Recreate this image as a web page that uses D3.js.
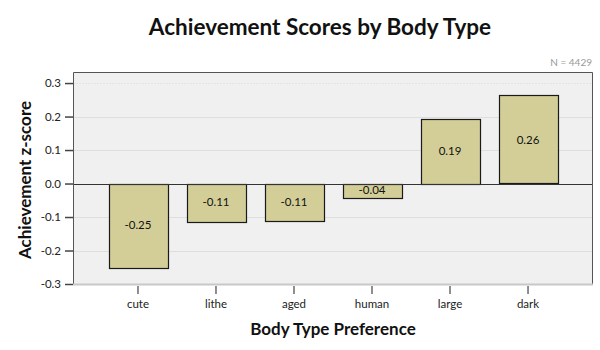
<!DOCTYPE html>
<html>
<head>
<meta charset="utf-8">
<script src="https://cdn.jsdelivr.net/npm/d3@7"></script>
<style>
  body { margin: 0; background: #fff; }
  svg { display: block; font-family: Lato, "Open Sans", sans-serif; }
</style>
</head>
<body>
<svg id="chart" width="600" height="350"></svg>
<script>
// Mean achievement z-score for each body type preference
const categories = ["cute", "lithe", "aged", "human", "large", "dark"];
const scores = [-0.250, -0.112, -0.109, -0.041, 0.194, 0.263];
const yTicks = [-0.3, -0.2, -0.1, 0.0, 0.1, 0.2, 0.3];
const sampleSize = 4429;

// Plain hyphen-minus for negative numbers
const locale = d3.formatLocale({ decimal: ".", thousands: ",", grouping: [3], currency: ["", ""], minus: "-" });
const fmt2 = locale.format(".2f");
const fmt1 = locale.format(".1f");

const svg = d3.select("#chart");
const plot = { left: 73, right: 593, top: 72, bottom: 284 };

const x = d3.scaleBand()
  .domain(categories)
  .range([plot.left, plot.right])
  .paddingInner(0.25)
  .paddingOuter(0.458);

const y = d3.scaleLinear()
  .domain([-0.3, 0.333])
  .range([plot.bottom, plot.top]);

// Plot background
svg.append("rect")
  .attr("x", plot.left).attr("y", plot.top)
  .attr("width", plot.right - plot.left)
  .attr("height", plot.bottom - plot.top)
  .attr("fill", "#f0f0f0");

// Horizontal grid lines
svg.append("g")
  .selectAll("line")
  .data(yTicks.filter(t => t !== 0 && t !== -0.3))
  .join("line")
  .attr("x1", plot.left).attr("x2", plot.right)
  .attr("y1", d => Math.round(y(d)) + 0.5)
  .attr("y2", d => Math.round(y(d)) + 0.5)
  .attr("stroke", d => d === 0.3 ? "#e4e4e4" : "#dedede")
  .attr("stroke-dasharray", d => d === 0.3 ? "2,1" : null)
  .attr("stroke-width", 1);

// Bars
svg.append("g")
  .selectAll("rect")
  .data(categories.map((c, i) => ({ c, v: scores[i] })))
  .join("rect")
  .attr("x", d => Math.round(x(d.c)) + 0.5)
  .attr("y", d => Math.round(y(Math.max(0, d.v))) + 0.5)
  .attr("width", Math.round(x.bandwidth()))
  .attr("height", d => Math.round(Math.abs(y(d.v) - y(0))))
  .attr("fill", "#d3ce97")
  .attr("stroke", "#1a1a1a")
  .attr("stroke-width", 1.2);

// Value labels centred inside each bar
svg.append("g")
  .selectAll("text")
  .data(categories.map((c, i) => ({ c, v: scores[i] })))
  .join("text")
  .attr("x", d => x(d.c) + x.bandwidth() / 2)
  .attr("y", d => (y(d.v) + y(0)) / 2)
  .attr("dy", "0.35em")
  .attr("text-anchor", "middle")
  .attr("font-size", 11.5)
  .attr("fill", "#111")
  .text(d => fmt2(d.v));

// Zero reference line
svg.append("line")
  .attr("x1", plot.left).attr("x2", plot.right)
  .attr("y1", Math.round(y(0)) + 0.5).attr("y2", Math.round(y(0)) + 0.5)
  .attr("stroke", "#333").attr("stroke-width", 1.2);

// Frame: dark top/left/right, light bottom
svg.append("path")
  .attr("d", `M${plot.left + 0.5},${plot.bottom}V${plot.top + 0.5}H${plot.right - 0.5}V${plot.bottom}`)
  .attr("fill", "none").attr("stroke", "#555").attr("stroke-width", 1);
svg.append("line")
  .attr("x1", plot.left).attr("x2", plot.right)
  .attr("y1", plot.bottom + 0.5).attr("y2", plot.bottom + 0.5)
  .attr("stroke", "#c8c8c8").attr("stroke-width", 2);

// Y axis
const yAxis = d3.axisLeft(y)
  .tickValues(yTicks)
  .tickFormat(fmt1)
  .tickSize(8)
  .tickPadding(4);
const gy = svg.append("g")
  .attr("transform", `translate(${plot.left},0)`)
  .call(yAxis);
gy.select(".domain").remove();
gy.selectAll(".tick line").attr("stroke", "#444").attr("stroke-width", 1.5);
gy.selectAll(".tick text").attr("font-size", 11.5).attr("fill", "#222")
  .attr("font-family", "Lato, sans-serif");

// X axis
const xAxis = d3.axisBottom(x).tickSize(8).tickPadding(6);
const gx = svg.append("g")
  .attr("transform", `translate(0,${plot.bottom + 2})`)
  .call(xAxis);
gx.select(".domain").remove();
gx.selectAll(".tick line").attr("stroke", "#444").attr("stroke-width", 1.2);
gx.selectAll(".tick text").attr("font-size", 11.5).attr("fill", "#222")
  .attr("font-family", "Lato, sans-serif");

// Titles
svg.append("text")
  .attr("x", 320).attr("y", 35)
  .attr("text-anchor", "middle")
  .attr("font-size", 22.5).attr("font-weight", "bold").attr("fill", "#111")
  .text("Achievement Scores by Body Type");

svg.append("text")
  .attr("x", 333).attr("y", 335)
  .attr("text-anchor", "middle")
  .attr("font-size", 17).attr("font-weight", "bold").attr("fill", "#111")
  .text("Body Type Preference");

svg.append("text")
  .attr("transform", "translate(31,180) rotate(-90)")
  .attr("text-anchor", "middle")
  .attr("font-size", 17).attr("font-weight", "bold").attr("fill", "#111")
  .text("Achievement z-score");

svg.append("text")
  .attr("x", 592).attr("y", 66)
  .attr("text-anchor", "end")
  .attr("font-size", 10).attr("fill", "#999")
  .text(`N = ${sampleSize}`);
</script>
</body>
</html>
